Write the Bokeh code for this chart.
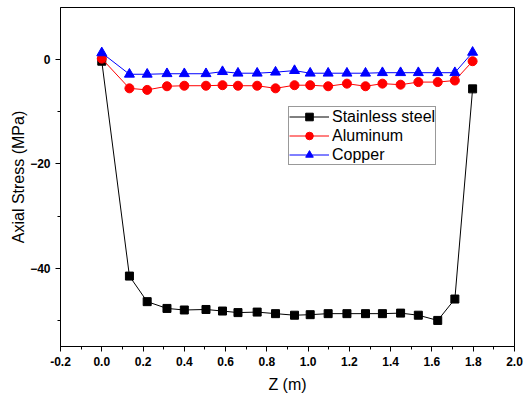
from bokeh.plotting import figure
from bokeh.models import FixedTicker, PrintfTickFormatter, Range1d
from bokeh.embed import file_html
from bokeh.resources import INLINE

# Axial position along the tube (m)
z = [0.0, 0.134, 0.220, 0.316, 0.400, 0.505, 0.585, 0.660, 0.753, 0.842, 0.934,
     1.010, 1.097, 1.188, 1.278, 1.360, 1.448, 1.534, 1.628, 1.711, 1.797]

# Axial stress (MPa) for each material
stainless = [-0.3, -41.5, -46.4, -47.7, -48.0, -47.9, -48.2, -48.5, -48.4, -48.7, -49.0,
             -48.9, -48.7, -48.7, -48.7, -48.7, -48.6, -49.0, -50.0, -45.9, -5.6]
aluminum = [0.2, -5.5, -5.8, -5.1, -5.0, -5.0, -4.9, -5.0, -5.0, -5.5, -4.9,
            -4.9, -5.1, -4.6, -5.1, -4.6, -4.8, -4.3, -4.3, -4.0, -0.3]
copper = [1.3, -2.8, -2.8, -2.7, -2.7, -2.7, -2.3, -2.6, -2.6, -2.4, -2.1,
          -2.6, -2.6, -2.6, -2.6, -2.5, -2.5, -2.5, -2.5, -2.5, 1.4]

x_ticks = [-0.2, 0.0, 0.2, 0.4, 0.6, 0.8, 1.0, 1.2, 1.4, 1.6, 1.8, 2.0]
x_minor = [-0.1, 0.1, 0.3, 0.5, 0.7, 0.9, 1.1, 1.3, 1.5, 1.7, 1.9]
y_ticks = [-40, -20, 0]
y_minor = [-50, -30, -10]

FONT = "Liberation Sans"

p = figure(width=524, height=396, output_backend="svg", toolbar_location=None,
           x_range=Range1d(-0.2, 2.0), y_range=Range1d(-55, 10),
           min_border_left=60, min_border_right=10, min_border_top=7,
           min_border_bottom=50)

p.xgrid.visible = False
p.ygrid.visible = False
p.outline_line_color = "black"
p.outline_line_width = 1
p.background_fill_color = "white"
p.border_fill_color = "white"

series = [
    (stainless, "black", "square", 8, "Stainless steel"),
    (aluminum, "red", "circle", 9, "Aluminum"),
    (copper, "blue", "triangle", 10, "Copper"),
]
for vals, color, marker, size, label in series:
    p.line(z, vals, line_color=color, line_width=1, legend_label=label)
    p.scatter(z, vals, marker=marker, size=size, fill_color=color,
              line_color=color, legend_label=label)

for ax in (p.xaxis[0], p.yaxis[0]):
    ax.axis_line_color = "black"
    ax.axis_line_width = 1
    ax.major_tick_line_color = "black"
    ax.minor_tick_line_color = "black"
    ax.major_tick_in = 0
    ax.major_tick_out = 5
    ax.minor_tick_in = 0
    ax.minor_tick_out = 3
    ax.major_label_text_font = FONT
    ax.major_label_text_font_style = "bold"
    ax.major_label_text_font_size = "12px"
    ax.major_label_text_color = "black"
    ax.axis_label_text_font = FONT
    ax.axis_label_text_font_style = "normal"
    ax.axis_label_text_font_size = "16px"
    ax.axis_label_text_color = "black"
    ax.major_label_standoff = 5

p.xaxis.ticker = FixedTicker(ticks=x_ticks, minor_ticks=x_minor)
p.xaxis.formatter = PrintfTickFormatter(format="%.1f")
p.xaxis.axis_label = "Z (m)"
p.xaxis.axis_label_standoff = 7

p.yaxis.ticker = FixedTicker(ticks=y_ticks, minor_ticks=y_minor)
p.yaxis.axis_label = "Axial Stress (MPa)"
p.yaxis.axis_label_standoff = 0

lg = p.legend[0]
lg.location = (228, 181)
lg.border_line_color = "#333333"
lg.border_line_width = 1
lg.background_fill_color = "white"
lg.background_fill_alpha = 1
lg.padding = 0
lg.spacing = 0
lg.margin = 0
lg.glyph_width = 40
lg.glyph_height = 19
lg.label_height = 19
lg.label_standoff = 3
lg.label_text_font = FONT
lg.label_text_font_size = "16px"
lg.label_text_color = "black"

open("out.html", "w").write(file_html(p, INLINE))
